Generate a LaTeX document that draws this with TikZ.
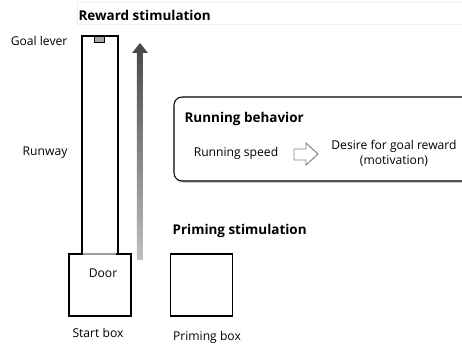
\documentclass[tikz,border=0pt]{standalone}
\usepackage{fontspec}
\setmainfont{Open Sans}
\usepackage{tikz}
\usetikzlibrary{positioning}
\usetikzlibrary{shadows}

\begin{document}
\begin{tikzpicture}[x=0.75pt, y=-0.75pt,
    every node/.style={font=\fontsize{9.1}{11}\selectfont, inner sep=1pt},
    title/.style={font=\fontsize{10.1}{12}\selectfont\bfseries, anchor=west},
    box/.style={draw, line width=1.3pt, minimum width=46.5pt, minimum height=46.5pt}]

        \useasboundingbox (0,0) rectangle (462,346);
        \clip (0,0) rectangle (462,346);

        % runway and lever
        \node[draw, line width=1.1pt, minimum width=27pt, minimum height=163.5pt] (runway) at (100,145) {};
        \node[draw, fill=gray!70, line width=0.6pt, minimum width=8pt, minimum height=5pt, inner sep=0pt] (lever) at (99.5,39.5) {};

        % boxes
        \node[box, fill=white] (start) at (100,285) {};
        \node[box] (priming) at (201.5,285) {};
        \draw[gray!75, line width=1.6pt] (83,254) -- (116,254);

        % gradient arrow
        \shade[top color=gray!20!black!80, bottom color=gray!50]
            (137,260) -- (137,53) -- (132,53) -- (140,43) -- (148,53) -- (143,53) -- (143,260) -- cycle;

        % labels
        \node[anchor=east] (goal) at (69,41) {Goal lever};
        \node[anchor=east] (runlabel) at (69,153) {Runway};
        \node (door) at (103,273) {Door};
        \node (startlabel) at (98,333) {Start box};
        \node (primlabel) at (207,337) {Priming box};

        \draw[gray!12] (77,2) rectangle (470,24);
        \node[title] (reward) at (77,15) {Reward stimulation};
        \node[title] (prime) at (171,231) {Priming stimulation};

        % running behavior panel
        \draw[rounded corners=6pt, line width=0.8pt, fill=white,
              drop shadow={shadow xshift=0.8pt, shadow yshift=-1.5pt, opacity=0.35}]
            (174,97) rectangle (480,181);
        \node[title] (running) at (183,119) {Running behavior};
        \node (speed) at (236,153) {Running speed};
        \draw[gray, line width=0.7pt, line join=miter]
            (294,149) -- (306,149) -- (306,143) -- (318,154) -- (306,165) -- (306,160) -- (294,160) -- cycle;
        \node[align=center] (desire) at (394,153.5) {Desire for goal reward\\(motivation)};

    \end{tikzpicture}
\end{document}
